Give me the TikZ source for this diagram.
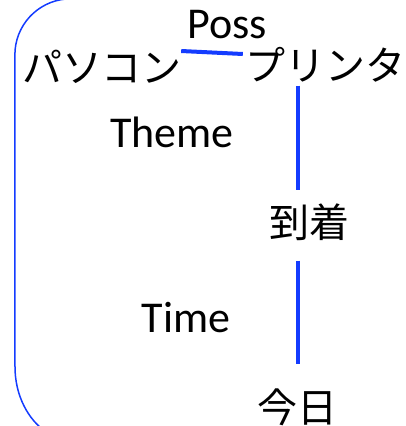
\documentclass[tikz,border=0pt]{standalone}
\usepackage{fontspec}
\setmainfont{Carlito}
\newfontfamily\jp{Noto Sans CJK JP}
\definecolor{linkblue}{RGB}{20,60,255}
\begin{document}
\begin{tikzpicture}[x=1pt,y=1pt,
  lat/.style={inner sep=0pt, font=\fontsize{44}{48}\selectfont},
  jpn/.style={inner sep=0pt, font=\jp\fontsize{40}{44}\selectfont},
  link/.style={draw=linkblue, line width=4pt},
  bracket/.style={draw=linkblue, line width=1.5pt}]
\useasboundingbox (0,0) rectangle (405,-426);
\node[jpn] (pc) at (102,-67) {パソコン};
\node[jpn] (pr) at (325,-65) {プリンタ};
\node[lat] (poss) at (227,-25) {Poss};
\node[lat] (theme) at (172,-132) {Theme};
\node[jpn] (arr) at (309,-222) {到着};
\node[lat] (time) at (186,-318) {Time};
\node[jpn] (today) at (297,-407) {今日};
\draw[link] ([xshift=-1pt,yshift=16pt]pc.east) -- ([xshift=-2pt,yshift=11pt]pr.west);
\draw[link] ([xshift=-27pt,yshift=-3pt]pr.south) -- ([xshift=-11pt,yshift=13pt]arr.north);
\draw[link] ([xshift=-11pt,yshift=-20pt]arr.south) -- ([xshift=1pt,yshift=24pt]today.north);
\draw[bracket] (66,1) arc[start angle=95, end angle=180, radius=56] -- (15,-367)
  arc[start angle=180, end angle=242, x radius=62, y radius=75];
\end{tikzpicture}
\end{document}
